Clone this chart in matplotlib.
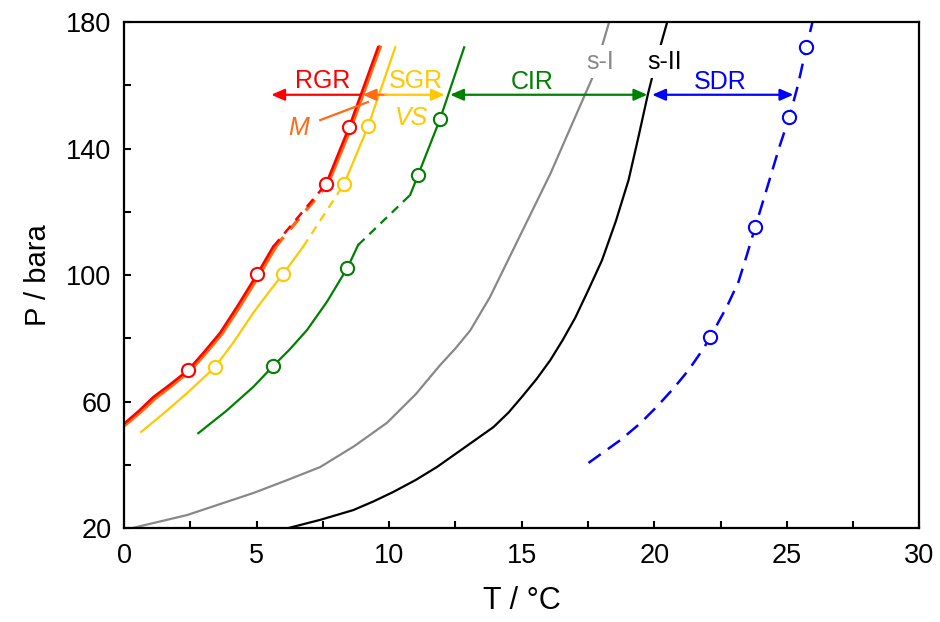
import matplotlib.pyplot as plt
from matplotlib.ticker import FixedLocator

plt.rcParams['font.family'] = ['Liberation Sans', 'DejaVu Sans']

# hydrate equilibrium curves
sI_T = [0.3, 2.37, 4.88, 6.1, 7.4, 8.7, 9.92, 11.0, 11.92, 12.5, 13.06, 13.8,
        14.94, 16.08, 16.94, 17.7, 18.3]
sI_P = [20, 24.1, 31.1, 35.0, 39.3, 46.0, 53.3, 62.3, 71.5, 76.8, 82.5, 93.0,
        112.5, 132, 148.5, 163, 180]
sII_T = [6.19, 7.4, 8.65, 9.4, 10.15, 11.0, 11.8, 12.68, 13.93, 14.5, 15.0, 15.55,
         16.08, 16.55, 17.02, 17.5, 18.03, 18.55, 19.03, 19.4, 19.77, 20.1, 20.49]
sII_P = [20, 22.6, 25.7, 28.4, 31.4, 35.2, 39.3, 44.5, 51.9, 56.5, 61.4, 67.0,
         73.1, 79.5, 86.5, 95.0, 104.7, 117.0, 130.0, 143.5, 157.5, 168.5, 180]

# RGR (red)
rgr_lo_T = [0, 0.55, 1.1, 1.75, 2.42, 3.0, 3.62, 4.3, 5.02, 5.62]
rgr_lo_P = [53, 57.0, 61.4, 65.5, 70.0, 75.5, 81.7, 90.5, 100.3, 108.9]
rgr_hi_T = [7.62, 8.49, 9.58]
rgr_hi_P = [128.8, 146.8, 172]
rgr_pt_T = [2.42, 5.02, 7.62, 8.49]
rgr_pt_P = [70.0, 100.3, 128.8, 146.8]

# M (orange)
m_lo_T = [0, 0.6, 1.15, 1.8, 2.48, 3.05, 3.68, 4.36, 5.08, 5.68]
m_lo_P = [52.5, 56.7, 61.0, 65.2, 69.8, 75.2, 81.5, 90.2, 100.0, 108.6]
m_hi_T = [7.66, 8.54, 9.64]
m_hi_P = [128.5, 146.5, 172]

# SGR / VS (yellow)
sgr_lo_T = [0.64, 1.5, 2.38, 3.43, 4.15, 4.87, 5.45, 6.0, 6.75]
sgr_lo_P = [50.4, 56.3, 62.7, 70.9, 79.0, 88.0, 94.5, 100.3, 108.9]
sgr_hi_T = [8.3, 9.21, 10.23]
sgr_hi_P = [128.8, 147.1, 172]
sgr_pt_T = [3.43, 6.0, 8.3, 9.21]
sgr_pt_P = [70.9, 100.3, 128.8, 147.1]

# CIR (green)
cir_lo_T = [2.8, 3.85, 4.87, 5.62, 6.25, 6.9, 7.65, 8.42, 8.83]
cir_lo_P = [50, 57.0, 64.6, 71.2, 76.5, 82.6, 91.5, 102.2, 109.5]
cir_hi_T = [10.79, 11.09, 11.92, 12.83]
cir_hi_P = [125.3, 131.6, 149.3, 172]
cir_pt_T = [5.62, 8.42, 11.09, 11.92]
cir_pt_P = [71.2, 102.2, 131.6, 149.3]

# SDR (blue)
sdr_T = [17.52, 18.72, 19.47, 20.1, 20.73, 21.3, 21.86, 22.12, 22.74, 23.18,
         23.5, 23.81, 24.28, 24.72, 25.1, 25.42, 25.74, 25.97]
sdr_P = [40.6, 47.8, 53.1, 58.4, 64.2, 70.0, 76.8, 80.5, 90.0, 97.9,
         106.5, 115.2, 128.2, 140.5, 150, 160, 172.1, 180]
sdr_pt_T = [22.12, 23.81, 25.1, 25.74]
sdr_pt_P = [80.5, 115.2, 150, 172.1]

RED = '#ff0000'
ORANGE = '#ff6a13'
YELLOW = '#ffc800'
GREEN = '#008000'
BLUE = '#0000ff'
GRAY = '#888888'

fig = plt.figure(figsize=(9.4, 6.22), dpi=100)
ax = fig.add_axes([0.132, 0.151, 0.846, 0.8136])

ax.plot(sI_T, sI_P, color=GRAY, lw=1.6)
ax.plot(sII_T, sII_P, color='black', lw=1.6)

dash = (4, 3)
ax.plot(m_lo_T, m_lo_P, color=ORANGE, lw=3)
ax.plot(m_hi_T, m_hi_P, color=ORANGE, lw=3)
ax.plot([m_lo_T[-1], m_hi_T[0]], [m_lo_P[-1], m_hi_P[0]], color=ORANGE, lw=2.5, dashes=dash)

for lo_T, lo_P, hi_T, hi_P, c, lw in [
        (rgr_lo_T, rgr_lo_P, rgr_hi_T, rgr_hi_P, RED, 1.8),
        (sgr_lo_T, sgr_lo_P, sgr_hi_T, sgr_hi_P, YELLOW, 1.6),
        (cir_lo_T, cir_lo_P, cir_hi_T, cir_hi_P, GREEN, 1.6)]:
    ax.plot(lo_T, lo_P, color=c, lw=lw)
    ax.plot(hi_T, hi_P, color=c, lw=lw)
    ax.plot([lo_T[-1], hi_T[0]], [lo_P[-1], hi_P[0]], color=c, lw=lw, dashes=dash)

ax.plot(sdr_T, sdr_P, color=BLUE, lw=1.8, dashes=(6, 3.5))

for t, p, c in [(rgr_pt_T, rgr_pt_P, RED), (sgr_pt_T, sgr_pt_P, YELLOW),
                (cir_pt_T, cir_pt_P, GREEN), (sdr_pt_T, sdr_pt_P, BLUE)]:
    ax.plot(t, p, 'o', ms=9.5, mfc='white', mec=c, mew=1.5, ls='none')

# arrows
y_arr = 157
def arrow(x0, x1, c, style):
    ax.annotate('', xy=(x1, y_arr), xytext=(x0, y_arr),
                arrowprops=dict(arrowstyle=style + ',head_length=0.8,head_width=0.35',
                                color=c, lw=1.6, shrinkA=0, shrinkB=0, mutation_scale=10))

arrow(8.9, 5.55, RED, '-|>')
arrow(9.9, 9.0, ORANGE, '-|>')
arrow(9.85, 12.1, YELLOW, '-|>')
arrow(12.3, 19.74, GREEN, '<|-|>')
arrow(19.92, 25.25, BLUE, '<|-|>')

ax.plot([7.4, 9.2], [149, 154.7], color=ORANGE, lw=1.6)

fs = 18
ax.text(7.5, 161.5, 'RGR', color=RED, fontsize=fs, ha='center', va='center')
ax.text(11.0, 161.5, 'SGR', color=YELLOW, fontsize=fs, ha='center', va='center')
ax.text(6.6, 146.5, 'M', color=ORANGE, fontsize=fs, ha='center', va='center', style='italic')
ax.text(10.85, 149.5, 'VS', color=YELLOW, fontsize=fs, ha='center', va='center', style='italic')
ax.text(15.4, 161, 'CIR', color=GREEN, fontsize=fs, ha='center', va='center')
ax.text(22.5, 161, 'SDR', color=BLUE, fontsize=fs, ha='center', va='center')
bb = dict(facecolor='white', edgecolor='none', pad=3)
ax.text(17.95, 167.5, 's-I', color=GRAY, fontsize=fs, ha='center', va='center', bbox=bb)
ax.text(20.4, 167.5, 's-II', color='black', fontsize=fs, ha='center', va='center', bbox=bb)

ax.set_xlim(0, 30)
ax.set_ylim(20, 180)
ax.xaxis.set_major_locator(FixedLocator([0, 5, 10, 15, 20, 25, 30]))
ax.xaxis.set_minor_locator(FixedLocator([2.5, 7.5, 12.5, 17.5, 22.5, 27.5]))
ax.yaxis.set_major_locator(FixedLocator([20, 60, 100, 140, 180]))
ax.yaxis.set_minor_locator(FixedLocator([40, 80, 120, 160]))
ax.tick_params(which='both', direction='in', length=5, width=1.5, labelsize=19.5)
ax.tick_params(axis='x', which='both', pad=11)
ax.tick_params(axis='y', which='both', pad=9)
for s in ax.spines.values():
    s.set_linewidth(1.6)

ax.set_xlabel('T / °C', fontsize=22, labelpad=12)
ax.set_ylabel('P / bara', fontsize=21, labelpad=10)

fig.savefig('out.png', dpi=100)
